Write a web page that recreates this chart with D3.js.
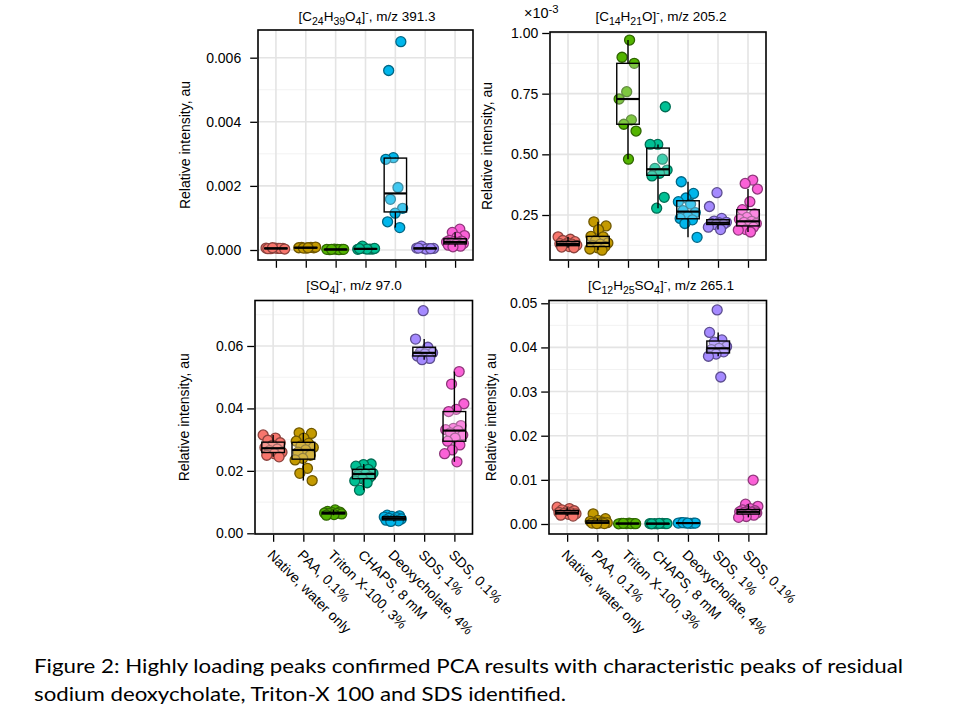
<!DOCTYPE html>
<html>
<head>
<meta charset="utf-8">
<script src="https://d3js.org/d3.v7.min.js"></script>
<style>
  body { margin: 0; background: #fff; }
  text { font-family: "Liberation Sans", Arial, sans-serif; fill: #000; }
  .grid-major { stroke: #e4e4e4; stroke-width: 1.6px; }
  .grid-minor { stroke: #f1f1f1; stroke-width: 0.9px; }
  .frame { fill: none; stroke: #000; stroke-width: 1.6px; }
  .axis .tick line { stroke: #000; stroke-width: 1.3px; }
  .axis .domain { display: none; }
  .axis text { font-size: 14px; }
  .box { fill: #fff; fill-opacity: 0.25; stroke: #000; stroke-width: 1.4px; }
  .whisker { stroke: #000; stroke-width: 1.4px; }
  .median { stroke: #000; stroke-width: 2.2px; }
</style>
</head>
<body>
<svg id="fig" width="960" height="720"></svg>
<script>
// ---- data ----
const categories = ["Native, water only", "PAA, 0.1%", "Triton X-100, 3%", "CHAPS, 8 mM",
                    "Deoxycholate, 4%", "SDS, 1%", "SDS, 0.1%"];
const groupColors = ["#F8766D", "#C49A00", "#53B400", "#00C094", "#00B6EB", "#A58AFF", "#FB61D7"];

// [C24H39O4]-, m/z 391.3
const c24Values = [
  [0.00006, 0.00005, 0.00004, 0.00005, 0.00006, 0.00004, 0.00005, 0.00007, 0.00003],
  [0.00008, 0.00007, 0.00006, 0.00007, 0.00008, 0.00006, 0.00009, 0.00007],
  [0.00002, 0.00001, 0.00002, 0.00003, 0.00002, 0.00001, 0.00002, 0.00002],
  [0.00003, 0.00004, 0.00002, 0.00003, 0.00012, 0.00005, 0.00003, 0.00004],
  [0.0056, 0.0065, 0.00288, 0.00283, 0.00195, 0.00158, 0.0013, 0.00115, 0.00088, 0.0007],
  [0.00005, 0.00006, 0.00004, 0.00012, 0.00005, 0.00003, 0.00006, 0.00004],
  [0.00065, 0.00055, 0.00045, 0.0004, 0.0003, 0.00028, 0.00026, 0.00025, 0.00024, 0.00022, 0.0002, 0.00018, 0.00015, 0.00012, 0.0001]
];
// [C14H21O]-, m/z 205.2  (x10^-3)
const c14Values = [
  [0.16, 0.15, 0.145, 0.14, 0.135, 0.132, 0.13, 0.128, 0.125, 0.12, 0.118, 0.115],
  [0.222, 0.205, 0.19, 0.162, 0.16, 0.145, 0.135, 0.13, 0.125, 0.12, 0.115, 0.11, 0.105],
  [0.971, 0.9, 0.875, 0.758, 0.728, 0.642, 0.624, 0.596, 0.48],
  [0.696, 0.541, 0.541, 0.48, 0.442, 0.435, 0.422, 0.411, 0.323, 0.278],
  [0.387, 0.339, 0.32, 0.305, 0.295, 0.268, 0.26, 0.245, 0.236, 0.23, 0.215, 0.158],
  [0.342, 0.285, 0.236, 0.225, 0.22, 0.218, 0.215, 0.212, 0.21, 0.2, 0.19],
  [0.394, 0.38, 0.357, 0.305, 0.272, 0.255, 0.24, 0.232, 0.224, 0.22, 0.215, 0.21, 0.205, 0.2, 0.19, 0.188, 0.18]
];
// [SO4]-, m/z 97.0
const so4Values = [
  [0.0315, 0.0305, 0.0298, 0.029, 0.0282, 0.0275, 0.027, 0.0265, 0.026, 0.0255, 0.025, 0.0245],
  [0.0322, 0.032, 0.0305, 0.0295, 0.0288, 0.028, 0.0275, 0.0267, 0.026, 0.025, 0.024, 0.0235, 0.0208, 0.0192, 0.0169],
  [0.0075, 0.007, 0.0068, 0.0066, 0.0065, 0.0064, 0.0063, 0.0062, 0.006, 0.0058],
  [0.0222, 0.022, 0.0215, 0.0205, 0.0198, 0.0192, 0.019, 0.0185, 0.018, 0.0175, 0.0168, 0.0162, 0.0138],
  [0.0058, 0.0056, 0.0054, 0.0052, 0.005, 0.0048, 0.0046, 0.0044, 0.0042, 0.004, 0.0038],
  [0.0713, 0.0622, 0.0596, 0.058, 0.0578, 0.0575, 0.0568, 0.056, 0.0556],
  [0.0518, 0.0478, 0.0415, 0.0397, 0.039, 0.0345, 0.0336, 0.0332, 0.0329, 0.0322, 0.0315, 0.0305, 0.0295, 0.0283, 0.0267, 0.0255, 0.0229]
];
// [C12H25SO4]-, m/z 265.1
const c12Values = [
  [0.0038, 0.0035, 0.0032, 0.003, 0.0028, 0.0026, 0.0025, 0.0024, 0.0023, 0.0022, 0.002, 0.0018],
  [0.0023, 0.0012, 0.0008, 0.0006, 0.0004, 0.0003, 0.0003, 0.0002, 0.0002, 0.0001, 0.0001],
  [0.0002, 0.00015, 0.0001, 0.0001, 0.00005, 0.0001, 0.00015, 0.00008],
  [0.0001, 0.00005, 0.0001, 0.00015, 0.00008, 0.0001, 0.00012, 0.00005],
  [0.0003, 0.0002, 0.00025, 0.0002, 0.00015, 0.0003, 0.0002, 0.00022],
  [0.0485, 0.0434, 0.0417, 0.0412, 0.0402, 0.0398, 0.0395, 0.039, 0.0385, 0.038, 0.0333],
  [0.00995, 0.0045, 0.004, 0.0035, 0.0032, 0.003, 0.0029, 0.0028, 0.0027, 0.0026, 0.0025, 0.0023, 0.0021, 0.002, 0.0017, 0.0015]
];

const c24Ticks = [0, 0.002, 0.004, 0.006];
const c14Ticks = [0.25, 0.5, 0.75, 1.0];
const so4Ticks = [0, 0.02, 0.04, 0.06];
const c12Ticks = [0, 0.01, 0.02, 0.03, 0.04, 0.05];

// title pieces: [text, "sub" | "sup" | ""]
const c24Title = [["[C"], ["24", "sub"], ["H"], ["39", "sub"], ["O"], ["4", "sub"], ["]"], ["-", "sup"], [", m/z 391.3"]];
const c14Title = [["[C"], ["14", "sub"], ["H"], ["21", "sub"], ["O]"], ["-", "sup"], [", m/z 205.2"]];
const so4Title = [["[SO"], ["4", "sub"], ["]"], ["-", "sup"], [", m/z 97.0"]];
const c12Title = [["[C"], ["12", "sub"], ["H"], ["25", "sub"], ["SO"], ["4", "sub"], ["]"], ["-", "sup"], [", m/z 265.1"]];

const captionLines = [
  "Figure 2: Highly loading peaks confirmed PCA results with characteristic peaks of residual",
  "sodium deoxycholate, Triton-X 100 and SDS identified."
];

// ---- layout ----
const panels = [
  { values: c24Values, ticks: c24Ticks, fmt: d3.format(".3f"), title: c24Title,
    x0: 258, x1: 473, y0: 30, y1: 260, dom: [-0.000312, 0.006864],
    titleX: 367, titleY: 21, labelX: 190, pad: 9, xLabels: false },
  { values: c14Values, ticks: c14Ticks, fmt: d3.format(".2f"), title: c14Title,
    x0: 550, x1: 766, y0: 32, y1: 260, dom: [0.0646, 1.0041],
    titleX: 661, titleY: 21, labelX: 492, pad: 4, xLabels: false, exponent: true },
  { values: so4Values, ticks: so4Ticks, fmt: d3.format(".2f"), title: so4Title,
    x0: 255, x1: 472.5, y0: 300.5, y1: 534, dom: [-0.000224, 0.07457],
    titleX: 354, titleY: 290, labelX: 189, pad: 4, xLabels: true },
  { values: c12Values, ticks: c12Ticks, fmt: d3.format(".2f"), title: c12Title,
    x0: 549, x1: 766.5, y0: 300.5, y1: 534, dom: [-0.002266, 0.05063],
    titleX: 661, titleY: 290, labelX: 496, pad: 4, xLabels: true }
];

const svg = d3.select("#fig");

function boxStats(vals) {
  const s = vals.slice().sort(d3.ascending);
  const q1 = d3.quantile(s, 0.25), med = d3.quantile(s, 0.5), q3 = d3.quantile(s, 0.75);
  const iqr = q3 - q1;
  const lo = d3.min(s.filter(v => v >= q1 - 1.5 * iqr));
  const hi = d3.max(s.filter(v => v <= q3 + 1.5 * iqr));
  return { q1, med, q3, lo, hi };
}

function writeRich(sel, parts, size) {
  let shift = 0;
  parts.forEach(([t, kind]) => {
    const target = kind === "sub" ? 3.5 : kind === "sup" ? -5 : 0;
    sel.append("tspan")
      .attr("dy", target - shift)
      .style("font-size", kind ? (size * 0.78) + "px" : size + "px")
      .text(t);
    shift = target;
  });
}

panels.forEach(p => {
  const g = svg.append("g");
  const x = d3.scalePoint().domain(categories).range([p.x0, p.x1]).padding(0.6);
  const y = d3.scaleLinear().domain(p.dom).range([p.y1, p.y0]);
  const step = x.step();

  // minor + major gridlines
  const minor = d3.pairs(p.ticks).map(([a, b]) => (a + b) / 2);
  minor.push(p.ticks[0] - (p.ticks[1] - p.ticks[0]) / 2, p.ticks[p.ticks.length - 1] + (p.ticks[1] - p.ticks[0]) / 2);
  g.selectAll("line.grid-minor").data(minor.filter(v => v > p.dom[0] && v < p.dom[1]))
    .join("line").attr("class", "grid-minor")
    .attr("x1", p.x0).attr("x2", p.x1).attr("y1", d => y(d)).attr("y2", d => y(d));
  g.selectAll("line.grid-h").data(p.ticks)
    .join("line").attr("class", "grid-major grid-h")
    .attr("x1", p.x0).attr("x2", p.x1).attr("y1", d => y(d)).attr("y2", d => y(d));
  g.selectAll("line.grid-v").data(categories)
    .join("line").attr("class", "grid-major grid-v")
    .attr("x1", d => x(d)).attr("x2", d => x(d)).attr("y1", p.y0).attr("y2", p.y1);

  // jittered points
  const pts = [];
  p.values.forEach((vals, gi) => {
    vals.forEach((v, k) => {
      const j = ((k * 0.618034 + gi * 0.29) % 1) - 0.5;
      pts.push({ gi, v, dx: j * 0.66 * step });
    });
  });
  g.selectAll("circle").data(pts)
    .join("circle")
    .attr("cx", d => x(categories[d.gi]) + d.dx)
    .attr("cy", d => y(d.v))
    .attr("r", 5)
    .attr("fill", d => groupColors[d.gi])
    .attr("stroke", d => d3.color(groupColors[d.gi]).darker(1.6))
    .attr("stroke-width", 1.3);

  // boxplots
  const stats = p.values.map((vals, gi) => Object.assign({ cat: categories[gi] }, boxStats(vals)));
  const bw = step * 0.75;
  const bx = g.selectAll("g.bp").data(stats).join("g").attr("class", "bp");
  bx.append("line").attr("class", "whisker")
    .attr("x1", d => x(d.cat)).attr("x2", d => x(d.cat))
    .attr("y1", d => y(d.q3)).attr("y2", d => y(d.hi));
  bx.append("line").attr("class", "whisker")
    .attr("x1", d => x(d.cat)).attr("x2", d => x(d.cat))
    .attr("y1", d => y(d.q1)).attr("y2", d => y(d.lo));
  bx.append("rect").attr("class", "box")
    .attr("x", d => x(d.cat) - bw / 2).attr("width", bw)
    .attr("y", d => y(d.q3)).attr("height", d => Math.max(0.5, y(d.q1) - y(d.q3)));
  bx.append("line").attr("class", "median")
    .attr("x1", d => x(d.cat) - bw / 2).attr("x2", d => x(d.cat) + bw / 2)
    .attr("y1", d => y(d.med)).attr("y2", d => y(d.med));

  // frame
  g.append("rect").attr("class", "frame")
    .attr("x", p.x0).attr("y", p.y0).attr("width", p.x1 - p.x0).attr("height", p.y1 - p.y0);

  // axes
  g.append("g").attr("class", "axis")
    .attr("transform", `translate(${p.x0 - 0.8},0)`)
    .call(d3.axisLeft(y).tickValues(p.ticks).tickFormat(p.fmt).tickSize(7).tickPadding(p.pad));

  const xa = g.append("g").attr("class", "axis")
    .attr("transform", `translate(0,${p.y1 + 0.8})`)
    .call(d3.axisBottom(x).tickSize(7));
  if (p.xLabels) {
    xa.selectAll("text")
      .attr("x", 0).attr("y", 0).attr("dy", 0)
      .attr("text-anchor", "start")
      .attr("transform", "translate(-7,21) rotate(45)");
  } else {
    xa.selectAll("text").remove();
  }

  // y label
  g.append("text")
    .attr("transform", `translate(${p.labelX},${(p.y0 + p.y1) / 2}) rotate(-90)`)
    .attr("text-anchor", "middle")
    .style("font-size", "14px")
    .text("Relative intensity, au");

  // title
  const t = g.append("text").attr("x", p.titleX).attr("y", p.titleY).attr("text-anchor", "middle");
  writeRich(t, p.title, 13.5);

  if (p.exponent) {
    const e = g.append("text").attr("x", 524).attr("y", 18);
    writeRich(e, [["\u00d710"], ["-3", "sup"]], 14.5);
  }
});

// caption
svg.selectAll("text.caption").data(captionLines)
  .join("text")
  .attr("class", "caption")
  .attr("x", 34)
  .attr("y", (d, i) => 673 + i * 28)
  .attr("textLength", (d, i) => i === 0 ? 869 : 532)
  .attr("lengthAdjust", "spacingAndGlyphs")
  .style("font-family", "Lato, 'Open Sans', sans-serif")
  .style("font-size", "19px")
  .text(d => d);
</script>
</body>
</html>
